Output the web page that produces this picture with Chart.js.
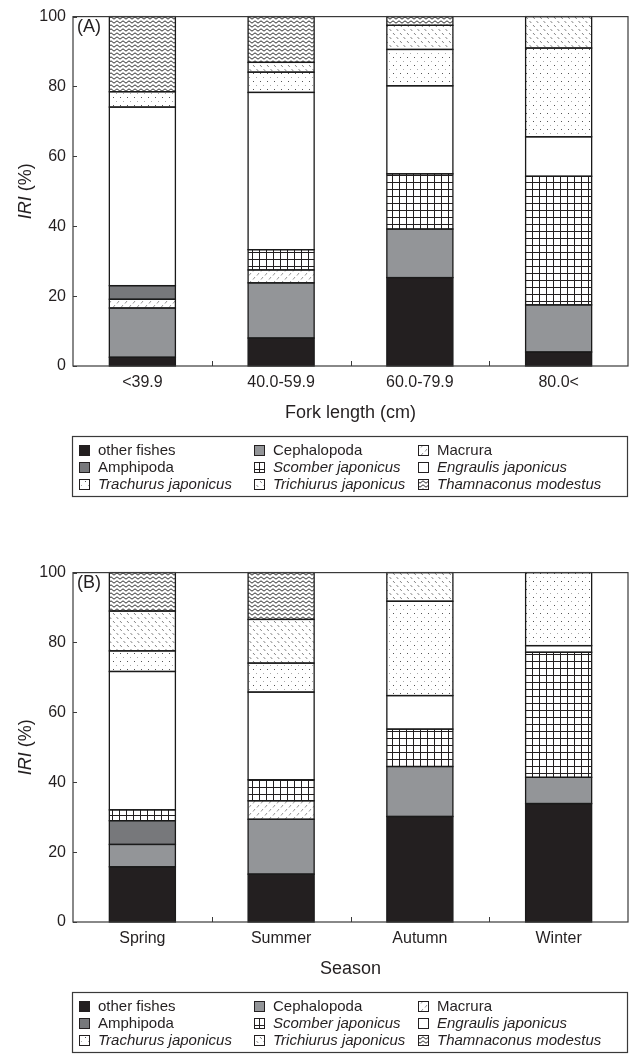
<!DOCTYPE html>
<html><head><meta charset="utf-8">
<script src="https://cdn.jsdelivr.net/npm/chart.js@4"></script>
<style>
html,body{margin:0;padding:0;background:#fff;}
#wrap{position:relative;width:631px;height:1054px;overflow:hidden;}
.panel{position:absolute;left:0;width:631px;}
canvas{display:block;}
</style></head><body>
<div id="wrap">
<div class="panel" style="top:0;height:556px"><canvas id="cA" width="631" height="556"></canvas></div>
<div class="panel" style="top:556px;height:498px"><canvas id="cB" width="631" height="498"></canvas></div>
</div>
<script>
// ---------- data ----------
const seriesNames = ['other fishes','Cephalopoda','Macrura','Amphipoda','Scomber japonicus','Engraulis japonicus','Trachurus japonicus','Trichiurus japonicus','Thamnaconus modestus'];
const seriesItalic = [false,false,false,false,true,true,true,true,true];
const sizeClasses = ['<39.9','40.0-59.9','60.0-79.9','80.0<'];
const seasons = ['Spring','Summer','Autumn','Winter'];
const yTickValues = [0,20,40,60,80,100];

// Panel A (fork length classes)
const A_otherFishes = [2.5, 8.0, 25.3, 4.0];
const A_cephalopoda = [14.1, 15.8, 13.9, 13.5];
const A_macrura     = [2.5, 3.7, 0, 0];
const A_amphipoda   = [3.9, 0, 0, 0];
const A_scomber     = [0, 5.8, 15.8, 36.8];
const A_engraulis   = [51.1, 45.0, 25.2, 11.3];
const A_trachurus   = [4.4, 5.8, 10.4, 25.4];
const A_trichiurus  = [0, 2.8, 6.9, 9.0];
const A_thamnaconus = [21.5, 13.1, 2.5, 0];

// Panel B (seasons)
const B_otherFishes = [15.8, 13.7, 30.2, 33.9];
const B_cephalopoda = [6.4, 15.7, 14.3, 7.5];
const B_macrura     = [0, 5.3, 0, 0];
const B_amphipoda   = [6.8, 0, 0, 0];
const B_scomber     = [3.1, 6.0, 10.7, 35.8];
const B_engraulis   = [39.6, 25.1, 9.6, 1.9];
const B_trachurus   = [5.9, 8.3, 27.0, 20.9];
const B_trichiurus  = [11.4, 12.5, 8.2, 0];
const B_thamnaconus = [11.0, 13.4, 0, 0];

// ---------- styling ----------
const FONT = "'Liberation Sans', Arial, Helvetica, sans-serif";
const INK = '#231f20';
Chart.defaults.font.family = FONT;
Chart.defaults.color = INK;

function tile(w, h, draw) {
  const c = document.createElement('canvas');
  c.width = w; c.height = h;
  const g = c.getContext('2d');
  g.fillStyle = '#fff'; g.fillRect(0, 0, w, h);
  draw(g);
  return document.createElement('canvas').getContext('2d').createPattern(c, 'repeat');
}
const fills = [
  '#231f20',
  '#939598',
  tile(8, 8, g => { g.strokeStyle = '#8a8a8a'; g.lineWidth = 0.9; g.beginPath(); g.moveTo(1, 3.5); g.lineTo(3, 1); g.moveTo(5, 7.5); g.lineTo(7, 5); g.stroke(); }),
  '#77787b',
  tile(7, 7, g => { g.fillStyle = INK; g.fillRect(0, 0, 7, 1); g.fillRect(0, 0, 1, 7); }),
  '#ffffff',
  tile(7, 8, g => { g.fillStyle = '#555'; g.fillRect(1, 1, 1, 1); g.fillStyle = '#aaa'; g.fillRect(4, 5, 1, 1); }),
  tile(7, 8, g => { g.strokeStyle = '#666'; g.lineWidth = 0.8; g.beginPath(); g.moveTo(1, 1); g.lineTo(2.8, 3); g.moveTo(4.5, 5); g.lineTo(6.3, 7); g.stroke(); }),
  tile(6, 4, g => { g.strokeStyle = '#2e2e2e'; g.lineWidth = 1.0; g.beginPath(); g.moveTo(-3, 0.8); g.lineTo(0, 3.2); g.lineTo(3, 0.8); g.lineTo(6, 3.2); g.lineTo(9, 0.8); g.stroke(); })
];

const decor = {
  id: 'decor',
  afterDatasetsDraw(chart) {
    // uniform outlines around every stacked segment
    const ctx = chart.ctx;
    ctx.save();
    ctx.strokeStyle = '#1a1a1a'; ctx.lineWidth = 1.3;
    chart.data.datasets.forEach((ds, di) => {
      const meta = chart.getDatasetMeta(di);
      meta.data.forEach((el, j) => {
        if (ds.data[j] == null) return;
        const p = el.getProps(['x', 'y', 'base', 'width'], true);
        ctx.strokeRect(p.x - p.width / 2, Math.min(p.y, p.base), p.width, Math.abs(p.base - p.y));
      });
    });
    ctx.restore();
  },
  afterDraw(chart, args, opts) {
    const { ctx, chartArea: a, scales } = chart;
    ctx.save();
    // frame
    ctx.strokeStyle = '#3a3a3a'; ctx.lineWidth = 1.2;
    ctx.strokeRect(a.left, a.top, a.right - a.left, a.bottom - a.top);
    ctx.lineWidth = 1;
    // inward y ticks
    scales.y.ticks.forEach(t => {
      const y = Math.round(scales.y.getPixelForValue(t.value)) + 0.5;
      ctx.beginPath(); ctx.moveTo(a.left, y); ctx.lineTo(a.left + 4, y); ctx.stroke();
    });
    // x ticks between categories
    const xs = scales.x, n = chart.data.labels.length;
    for (let i = 1; i < n; i++) {
      const x = Math.round((xs.getPixelForValue(i - 1) + xs.getPixelForValue(i)) / 2) + 0.5;
      ctx.beginPath(); ctx.moveTo(x, a.bottom); ctx.lineTo(x, a.bottom - 5); ctx.stroke();
    }
    // panel label
    ctx.fillStyle = INK; ctx.textBaseline = 'middle'; ctx.textAlign = 'left';
    ctx.font = '18px ' + FONT;
    ctx.fillText(opts.panel, a.left + 4, a.top + 10);
    // y title: IRI (%) with italic IRI
    ctx.save();
    ctx.translate(26, (a.top + a.bottom) / 2);
    ctx.rotate(-Math.PI / 2);
    const fI = 'italic 18px ' + FONT, fN = '18px ' + FONT;
    ctx.font = fI; const w1 = ctx.measureText('IRI').width;
    ctx.font = fN; const w2 = ctx.measureText(' (%)').width;
    const x0 = -(w1 + w2) / 2;
    ctx.font = fI; ctx.fillText('IRI', x0, 0);
    ctx.font = fN; ctx.fillText(' (%)', x0 + w1, 0);
    ctx.restore();
    // legend
    const top = a.bottom + 70, left = 72, right = 627, h = 60;
    ctx.strokeStyle = '#3a3a3a'; ctx.lineWidth = 1.2;
    ctx.strokeRect(left + 0.5, top + 0.5, right - left, h);
    const colX = [79, 254, 418];
    ctx.lineWidth = 1;
    seriesNames.forEach((name, i) => {
      const row = Math.floor(i / 3), col = i % 3;
      const cy = top + 14 + row * 17;
      const sx = colX[col];
      ctx.fillStyle = fills[i];
      ctx.fillRect(sx, cy - 5, 10, 10);
      ctx.strokeStyle = INK;
      ctx.strokeRect(sx + 0.5, cy - 5 + 0.5, 10, 10);
      ctx.fillStyle = INK;
      ctx.font = (seriesItalic[i] ? 'italic ' : '') + '15px ' + FONT;
      ctx.fillText(name, sx + 19, cy + 0.5);
    });
    ctx.restore();
  }
};

function makeChart(id, labels, seriesData, xTitle, panel, bottomPad) {
  return new Chart(document.getElementById(id), {
    type: 'bar',
    data: {
      labels: labels,
      datasets: seriesNames.map((name, i) => ({
        label: name,
        data: seriesData[i].map(v => (v === 0 ? null : v)),
        backgroundColor: fills[i],
        borderWidth: 0,
        inflateAmount: 0,
        barPercentage: 0.476,
        categoryPercentage: 1
      }))
    },
    options: {
      responsive: false, animation: false, devicePixelRatio: 1,
      layout: { padding: { left: 0, right: 3, top: 15, bottom: bottomPad } },
      plugins: { legend: { display: false }, tooltip: { enabled: false }, decor: { panel: panel } },
      scales: {
        x: {
          stacked: true,
          grid: { display: false, drawTicks: false },
          border: { display: false },
          ticks: { font: { size: 16 }, color: INK, padding: 7 },
          title: { display: true, text: xTitle, font: { size: 18 }, color: INK, padding: { top: 0, bottom: 2 } },
          afterFit(s) { s.height = 60; }
        },
        y: {
          stacked: true, min: 0, max: 100,
          grid: { display: false, drawTicks: false },
          border: { display: false },
          ticks: { font: { size: 16 }, color: INK, padding: 7 },
          afterBuildTicks(s) { s.ticks = yTickValues.map(v => ({ value: v })); },
          afterFit(s) { s.width = 73; }
        }
      }
    },
    plugins: [decor]
  });
}

makeChart('cA', sizeClasses,
  [A_otherFishes, A_cephalopoda, A_macrura, A_amphipoda, A_scomber, A_engraulis, A_trachurus, A_trichiurus, A_thamnaconus],
  'Fork length (cm)', '(A)', 130);
makeChart('cB', seasons,
  [B_otherFishes, B_cephalopoda, B_macrura, B_amphipoda, B_scomber, B_engraulis, B_trachurus, B_trichiurus, B_thamnaconus],
  'Season', '(B)', 72);
</script>
</body></html>
